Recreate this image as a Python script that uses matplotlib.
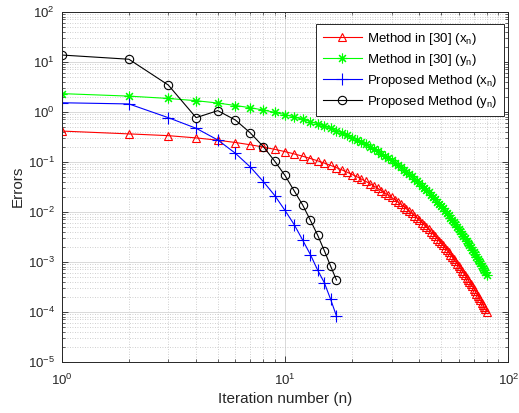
import matplotlib
matplotlib.use("Agg")
import matplotlib.pyplot as plt
from matplotlib.ticker import NullFormatter
import numpy as np

plt.rcParams["font.family"] = ["Liberation Sans", "DejaVu Sans"]
plt.rcParams["mathtext.fontset"] = "custom"
plt.rcParams["mathtext.rm"] = "Liberation Sans"
plt.rcParams["mathtext.it"] = "Liberation Sans:italic"
plt.rcParams["mathtext.default"] = "regular"

# errors per iteration
ref_x = [0.41, 0.36, 0.332, 0.299, 0.269, 0.242, 0.218, 0.196, 0.1765, 0.159,
         0.143, 0.1287, 0.1158, 0.1042, 0.0938, 0.0844, 0.076, 0.0684, 0.0615, 0.0554,
         0.0499, 0.0449, 0.0404, 0.0363, 0.0327, 0.0294, 0.0265, 0.0238, 0.0215, 0.0193,
         0.0174, 0.0157, 0.0141, 0.0127, 0.0114, 0.0103, 0.00924, 0.00832, 0.00748, 0.00674,
         0.00606, 0.00545, 0.00491, 0.00442, 0.00398, 0.00358, 0.00322, 0.0029, 0.00261, 0.00235,
         0.00211, 0.0019, 0.00171, 0.00154, 0.00139, 0.00125, 0.00112, 0.00101, 0.00091, 0.00082,
         0.00074, 0.00066, 0.0006, 0.00054, 0.00048, 0.00044, 0.00039, 0.00035, 0.00032, 0.00029,
         0.00026, 0.00023, 0.00021, 0.00019, 0.00017, 0.00015, 0.000137, 0.000123, 0.000111, 0.0001]

ref_y = [2.3, 2.05, 1.84, 1.66, 1.49, 1.33, 1.2, 1.08, 0.969, 0.872,
         0.785, 0.706, 0.636, 0.572, 0.515, 0.463, 0.417, 0.375, 0.338, 0.304,
         0.274, 0.246, 0.222, 0.2, 0.18, 0.162, 0.145, 0.131, 0.118, 0.106,
         0.0954, 0.0859, 0.0773, 0.0696, 0.0626, 0.0563, 0.0507, 0.0456, 0.0411, 0.037,
         0.0333, 0.0299, 0.0269, 0.0243, 0.0218, 0.0196, 0.0177, 0.0159, 0.0143, 0.0129,
         0.0116, 0.0104, 0.00939, 0.00845, 0.00761, 0.00685, 0.00616, 0.00555, 0.00499, 0.00449,
         0.00404, 0.00364, 0.00328, 0.00295, 0.00265, 0.00239, 0.00215, 0.00194, 0.00174, 0.00157,
         0.00141, 0.00127, 0.00114, 0.00103, 0.00093, 0.00083, 0.00075, 0.00068, 0.00061, 0.00055]

prop_x = [1.51, 1.43, 0.76, 0.466, 0.272, 0.147, 0.078, 0.040, 0.021, 0.0106,
          0.0055, 0.0027, 0.00138, 0.00068, 0.00038, 0.000178, 8.2e-5]

prop_y = [13.6, 11.2, 3.42, 0.76, 1.05, 0.68, 0.375, 0.20, 0.102, 0.053,
          0.026, 0.0136, 0.0067, 0.0034, 0.00166, 0.00082, 0.00043]

labels = ["Method in [30] (x$_n$)", "Method in [30] (y$_n$)",
          "Proposed Method (x$_n$)", "Proposed Method (y$_n$)"]

n_ref = np.arange(1, len(ref_x) + 1)
n_prop = np.arange(1, len(prop_x) + 1)

dark = (0.15, 0.15, 0.15)

fig = plt.figure(figsize=(5.19, 4.13), dpi=100)
ax = fig.add_axes([61.7 / 519, 1 - 361.7 / 413, 446.6 / 519, 350 / 413])

lw = 0.8
ax.loglog(n_ref, ref_x, color="r", marker="^", ms=6, mfc="none", mew=0.8, lw=lw, label=labels[0])
ax.loglog(n_ref, ref_y, color=(0, 1, 0), marker=(8, 2, 0), ms=7, mew=0.8, lw=lw, label=labels[1])
ax.loglog(n_prop, prop_x, color="b", marker="+", ms=8, mew=0.8, lw=lw, label=labels[2])
ax.loglog(n_prop, prop_y, color="k", marker="o", ms=6, mfc="none", mew=0.8, lw=lw, label=labels[3])

ax.set_xlim(1, 100)
ax.set_ylim(1e-5, 1e2)
ax.xaxis.set_minor_formatter(NullFormatter())
ax.yaxis.set_minor_formatter(NullFormatter())

ax.grid(True, which="major", color=(0.85, 0.85, 0.85), linestyle="-", linewidth=0.7)
ax.grid(True, which="minor", color=(0.75, 0.75, 0.75), linestyle=(0, (1, 2)), linewidth=0.6)
ax.set_axisbelow(True)

ax.tick_params(which="both", direction="in", top=True, right=True, colors=dark, labelsize=9.5)
ax.tick_params(which="major", length=4, width=0.6)
ax.tick_params(which="minor", length=2.2, width=0.5)
ax.tick_params(axis="x", which="major", pad=8)
ax.tick_params(axis="y", which="major", pad=5)
for sp in ax.spines.values():
    sp.set_color(dark)
    sp.set_linewidth(0.7)

ax.set_xlabel("Iteration number (n)", fontsize=11, color=dark, labelpad=3)
ax.set_ylabel("Errors", fontsize=11, color=dark, labelpad=2)

leg = ax.legend(loc="upper right", bbox_to_anchor=(0.991, 0.965), fontsize=9.5,
                fancybox=False, framealpha=1, edgecolor=dark,
                handlelength=3.0, handletextpad=0.38, borderpad=0.5, labelspacing=0.38,
                borderaxespad=0)
leg.get_frame().set_linewidth(0.7)

fig.savefig("out.png", dpi=100)
